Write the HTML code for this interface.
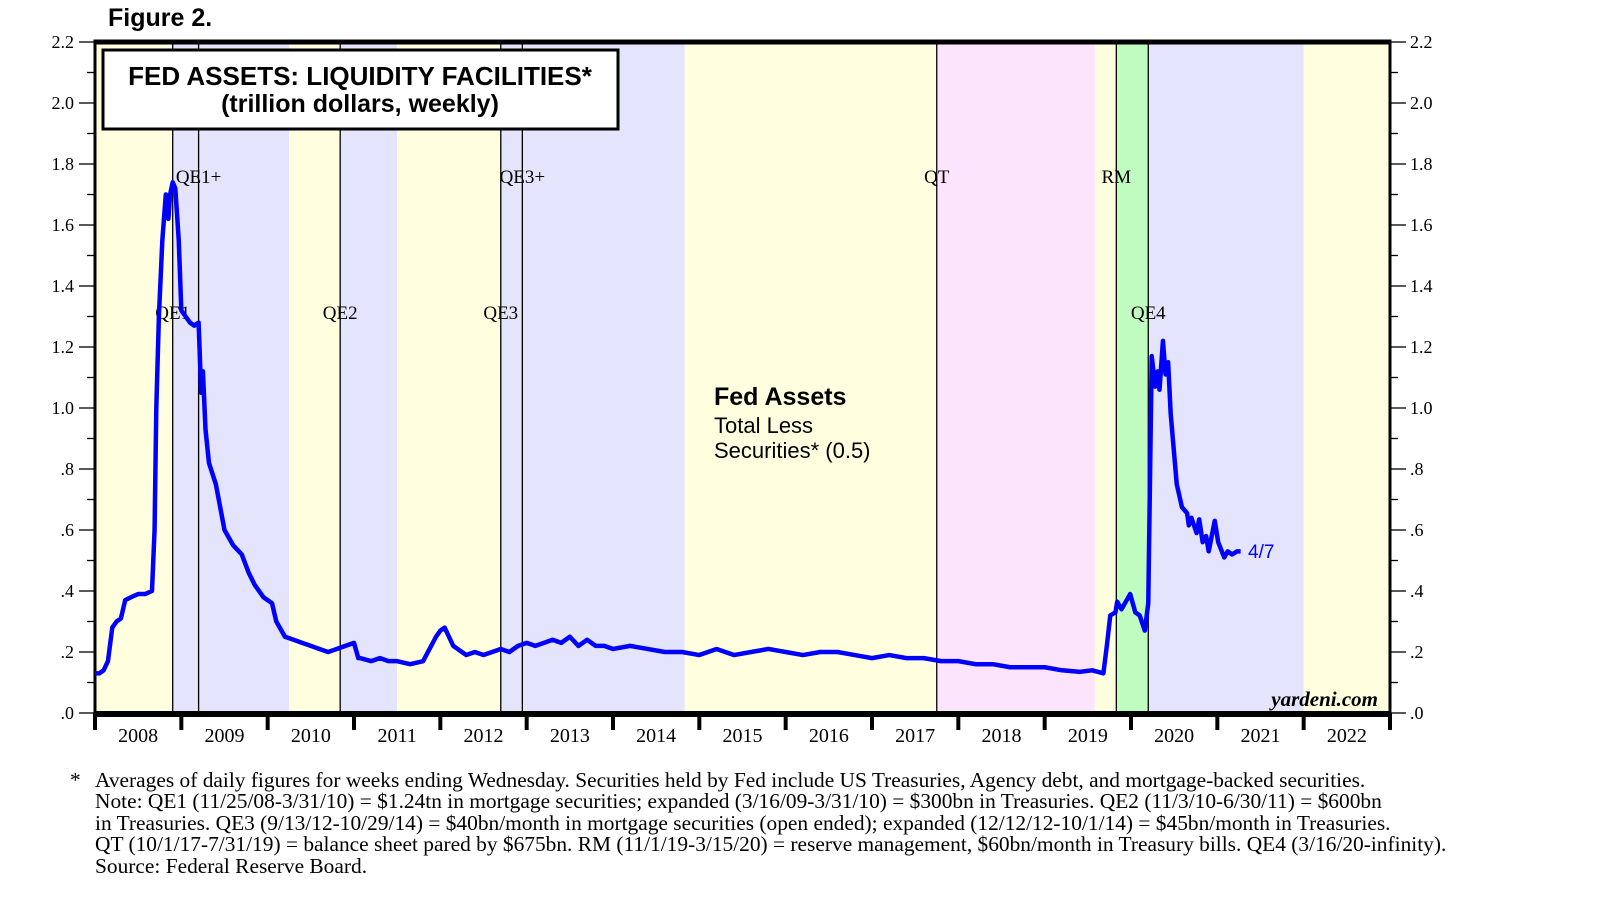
<!DOCTYPE html>
<html><head><meta charset="utf-8"><style>
body{margin:0;background:#fff;width:1610px;height:910px;overflow:hidden}
svg{display:block}
</style></head><body>
<svg id="chart" width="1610" height="910" xmlns="http://www.w3.org/2000/svg">
<g id="bands"></g>
<g id="vlines"></g>
<g id="axes"></g>
<g id="series"></g>
<text x="108" y="26" font-family="Liberation Sans, sans-serif" font-weight="bold" font-size="25">Figure 2.</text>
<g>
<rect x="103" y="50" width="515" height="79" fill="#fff" stroke="#000" stroke-width="3"/>
<text x="360" y="85" text-anchor="middle" font-family="Liberation Sans, sans-serif" font-weight="bold" font-size="26">FED ASSETS: LIQUIDITY FACILITIES*</text>
<text x="360" y="112" text-anchor="middle" font-family="Liberation Sans, sans-serif" font-weight="bold" font-size="25">(trillion dollars, weekly)</text>
</g>
<g font-family="Liberation Sans, sans-serif">
<text x="714" y="405" font-weight="bold" font-size="25">Fed Assets</text>
<text x="714" y="433" font-size="22">Total Less</text>
<text x="714" y="458" font-size="22">Securities* (0.5)</text>
</g>
<text x="1248" y="558" fill="#0000ff" font-family="Liberation Sans, sans-serif" font-size="19">4/7</text>
<text x="1378" y="706" text-anchor="end" font-family="Liberation Serif, serif" font-weight="bold" font-style="italic" font-size="21">yardeni.com</text>
<g font-family="Liberation Serif, serif" font-size="21.4">
<text x="70" y="787">*</text>
<text x="95" y="787">Averages of daily figures for weeks ending Wednesday. Securities held by Fed include US Treasuries, Agency debt, and mortgage-backed securities.</text>
<text x="95" y="808">Note: QE1 (11/25/08-3/31/10) = $1.24tn in mortgage securities; expanded (3/16/09-3/31/10) = $300bn in Treasuries. QE2 (11/3/10-6/30/11) = $600bn</text>
<text x="95" y="830">in Treasuries. QE3 (9/13/12-10/29/14) = $40bn/month in mortgage securities (open ended); expanded (12/12/12-10/1/14) = $45bn/month in Treasuries.</text>
<text x="95" y="851">QT (10/1/17-7/31/19) = balance sheet pared by $675bn. RM (11/1/19-3/15/20) = reserve management, $60bn/month in Treasury bills. QE4 (3/16/20-infinity).</text>
<text x="95" y="873">Source: Federal Reserve Board.</text>
</g>
</svg>
<script>
const dates=[
2008.0,2008.05,2008.1,2008.15,2008.2,2008.25,2008.3,2008.35,2008.42,2008.5,
2008.58,2008.66,2008.69,2008.71,2008.74,2008.78,2008.82,2008.85,2008.87,2008.9,
2008.93,2008.97,2009.0,2009.05,2009.1,2009.15,2009.2,2009.23,2009.25,2009.28,
2009.32,2009.4,2009.5,2009.6,2009.7,2009.78,2009.85,2009.95,2010.05,2010.1,
2010.2,2010.3,2010.4,2010.5,2010.6,2010.7,2010.8,2010.9,2011.0,2011.05,
2011.07,2011.2,2011.3,2011.4,2011.5,2011.65,2011.8,2011.95,2012.0,2012.05,
2012.15,2012.2,2012.25,2012.3,2012.4,2012.5,2012.6,2012.7,2012.8,2012.9,
2013.0,2013.1,2013.2,2013.3,2013.4,2013.5,2013.6,2013.7,2013.8,2013.9,
2014.0,2014.2,2014.4,2014.6,2014.8,2015.0,2015.2,2015.4,2015.6,2015.8,
2016.0,2016.2,2016.4,2016.6,2016.8,2017.0,2017.2,2017.4,2017.6,2017.8,
2018.0,2018.2,2018.4,2018.6,2018.8,2019.0,2019.2,2019.41,2019.55,2019.68,
2019.72,2019.76,2019.82,2019.84,2019.89,2019.99,2020.05,2020.10,2020.16,2020.20,
2020.24,2020.28,2020.31,2020.33,2020.37,2020.40,2020.43,2020.46,2020.53,2020.59,
2020.65,2020.67,2020.70,2020.76,2020.79,2020.83,2020.87,2020.90,2020.97,2021.01,
2021.08,2021.12,2021.17,2021.23,2021.27];
const values=[
0.13,0.13,0.14,0.17,0.28,0.30,0.31,0.37,0.38,0.39,
0.39,0.40,0.60,1.00,1.30,1.55,1.70,1.62,1.70,1.74,
1.72,1.55,1.32,1.30,1.28,1.27,1.28,1.05,1.12,0.93,
0.82,0.75,0.60,0.55,0.52,0.46,0.42,0.38,0.36,0.30,
0.25,0.24,0.23,0.22,0.21,0.20,0.21,0.22,0.23,0.18,
0.18,0.17,0.18,0.17,0.17,0.16,0.17,0.25,0.27,0.28,
0.22,0.21,0.20,0.19,0.20,0.19,0.20,0.21,0.20,0.22,
0.23,0.22,0.23,0.24,0.23,0.25,0.22,0.24,0.22,0.22,
0.21,0.22,0.21,0.20,0.20,0.19,0.21,0.19,0.20,0.21,
0.20,0.19,0.20,0.20,0.19,0.18,0.19,0.18,0.18,0.17,
0.17,0.16,0.16,0.15,0.15,0.15,0.14,0.135,0.14,0.13,
0.22,0.32,0.33,0.365,0.34,0.39,0.33,0.32,0.27,0.36,
1.17,1.07,1.12,1.06,1.22,1.11,1.15,0.98,0.75,0.675,
0.655,0.615,0.64,0.59,0.635,0.56,0.58,0.53,0.63,0.56,
0.51,0.53,0.52,0.53,0.53];
const yTicks=[0,0.2,0.4,0.6,0.8,1.0,1.2,1.4,1.6,1.8,2.0,2.2];
const yTickLabels=[".0",".2",".4",".6",".8","1.0","1.2","1.4","1.6","1.8","2.0","2.2"];
const years=[2008,2009,2010,2011,2012,2013,2014,2015,2016,2017,2018,2019,2020,2021,2022];
const bandStarts=[2008,2008.9,2010.25,2010.84,2011.5,2012.7,2014.83,2017.75,2019.58,2019.83,2020.2,2022.0];
const bandEnds=[2008.9,2010.25,2010.84,2011.5,2012.7,2014.83,2017.75,2019.58,2019.83,2020.2,2022.0,2023];
const bandColors=["#ffffe0","#e4e4fc","#ffffe0","#e4e4fc","#ffffe0","#e4e4fc","#ffffe0","#fce4fc","#ffffe0","#c0fcc0","#e4e4fc","#ffffe0"];
const eventDates=[2008.9,2009.2,2010.84,2012.7,2012.95,2017.75,2019.83,2020.2];
const eventLabels=["QE1","QE1+","QE2","QE3","QE3+","QT","RM","QE4"];
const eventLabelLevel=[1,0,1,1,0,0,0,1];

const X0=95,X1=1390,Y0=713,Y1=42,T0=2008,T1=2023,V1=2.2;
const xs=t=>X0+(t-T0)/(T1-T0)*(X1-X0);
const ys=v=>Y0-v/V1*(Y0-Y1);
const NS="http://www.w3.org/2000/svg";
function mk(tag,parent,attrs){const e=document.createElementNS(NS,tag);for(const k in attrs)e.setAttribute(k,attrs[k]);parent.appendChild(e);return e;}
const bands=document.getElementById('bands'),vl=document.getElementById('vlines'),ax=document.getElementById('axes'),se=document.getElementById('series');
bandStarts.forEach((s,i)=>{
 const r=mk('rect',bands,{x:xs(s),y:Y1,width:xs(bandEnds[i])-xs(s),height:Y0-Y1,fill:bandColors[i]});
 
 
});
eventDates.forEach((d,i)=>{
 const l=mk('line',vl,{x1:xs(d),x2:xs(d),y1:Y1,y2:Y0,stroke:'#000','stroke-width':1.3});
 
 
 const t=mk('text',vl,{x:xs(d),y:eventLabelLevel[i]?319:183,'text-anchor':'middle','font-family':'Liberation Serif, serif','font-size':19});
 t.textContent=eventLabels[i];
 
 
});
const fr=mk('rect',ax,{x:X0,y:Y1,width:X1-X0,height:Y0-Y1,fill:'none',stroke:'#000','stroke-width':3});


mk('line',ax,{x1:X0-1.5,x2:X1+1.5,y1:Y1,y2:Y1,stroke:'#000','stroke-width':5});
mk('line',ax,{x1:X0-1.5,x2:X1+1.5,y1:Y0+1,y2:Y0+1,stroke:'#000','stroke-width':6});
for(let v=0;v<=2.201;v+=0.1){
 const major=Math.abs(v/0.2-Math.round(v/0.2))<0.01;
 mk('line',ax,{x1:X0-(major?16:8),x2:X0,y1:ys(v),y2:ys(v),stroke:'#000','stroke-width':1.3});
 mk('line',ax,{x1:X1,x2:X1+(major?16:8),y1:ys(v),y2:ys(v),stroke:'#000','stroke-width':1.3});
}
yTicks.forEach((v,i)=>{
 const a=mk('text',ax,{x:74,y:ys(v)+6,'text-anchor':'end','font-family':'Liberation Serif, serif','font-size':18});
 a.textContent=yTickLabels[i];
 
 
 const b=mk('text',ax,{x:1410,y:ys(v)+6,'font-family':'Liberation Serif, serif','font-size':18});
 b.textContent=yTickLabels[i];
 
 
});
years.forEach(y=>{
 mk('line',ax,{x1:xs(y),x2:xs(y),y1:Y0,y2:Y0+17,stroke:'#000','stroke-width':4});
 const t=mk('text',ax,{x:xs(y+0.5),y:742,'text-anchor':'middle','font-family':'Liberation Serif, serif','font-size':20});
 t.textContent=y;
 
 
});
mk('line',ax,{x1:xs(2023),x2:xs(2023),y1:Y0,y2:Y0+17,stroke:'#000','stroke-width':4});
const p=mk('polyline',se,{points:dates.map((d,i)=>xs(d)+','+ys(values[i])).join(' '),fill:'none',stroke:'#0000ff','stroke-width':4.5,'stroke-linejoin':'round'});


</script>
</body></html>
